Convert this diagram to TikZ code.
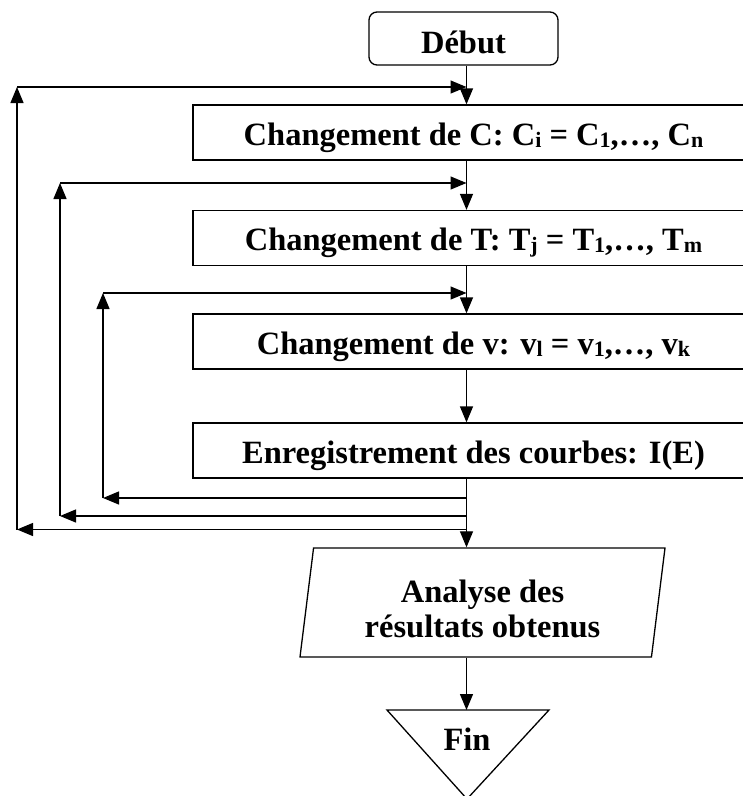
\documentclass[tikz,border=0pt]{standalone}
\usepackage{fontspec}
\setmainfont{Liberation Serif}
\usetikzlibrary{arrows.meta,shapes.geometric}
\newcommand\subx[1]{\raisebox{-2pt}{\fontsize{22}{22}\selectfont #1}}
\begin{document}
\begin{tikzpicture}[x=1pt,y=-1pt,
  lbl/.style={font=\fontsize{32.5}{35}\selectfont\bfseries},
  shapeline/.style={draw,line width=1.3pt},
  arr/.style={line width=1.3pt,-{Triangle[length=16pt,width=13pt]}},
  procbox/.style={lbl,shapeline,minimum width=561pt,minimum height=55pt,inner sep=0pt,text height=25pt,text depth=0pt},
]
\useasboundingbox (0,0) rectangle (743,796);
\clip (0,0) rectangle (743,796);
\fill[white] (0,0) rectangle (743,796);

% nodes
\node[lbl,shapeline,rounded corners=8pt,minimum width=189pt,minimum height=53pt,inner sep=0pt,text height=29pt,text depth=0pt] (debut) at (463.5,38.5) {Début};
\node[procbox] (box1) at (473.5,132.5) {Changement de C: C\subx{i} = C\subx{1},…, C\subx{n}};
\node[procbox] (box2) at (473.5,238) {Changement de T: T\subx{j} = T\subx{1},…, T\subx{m}};
\node[procbox] (box3) at (473.5,341.5) {Changement de v: v\subx{l} = v\subx{1},…, v\subx{k}};
\node[procbox] (box4) at (473.5,450.5) {Enregistrement des courbes: I(E)};
\node[lbl,shapeline,shape=trapezium,trapezium left angle=79.1,trapezium right angle=100.9,
      trapezium stretches body,minimum width=365pt,minimum height=109pt,inner sep=0pt,align=center] (analyse) at (482.5,602.5) {\rule{0pt}{35pt}Analyse des\\résultats obtenus};

% Fin triangle
\coordinate (finL) at (387,710);
\coordinate (finR) at (549,710);
\coordinate (finA) at (467,799);
\draw[line width=1.3pt] (finL) -- (finR) -- (finA) -- cycle;
\node[lbl,anchor=base] (fin) at (467,750) {Fin};

% main line x
\coordinate (mx) at (466.5,0);

% loop coordinates
\coordinate (t1L) at (17,87);   \coordinate (t1R) at (466.5,87);
\coordinate (t2L) at (60,183);  \coordinate (t2R) at (466.5,183);
\coordinate (t3L) at (103,293); \coordinate (t3R) at (466.5,293);
\coordinate (b3L) at (103,498); \coordinate (b3R) at (466.5,498);
\coordinate (b2L) at (60,516);  \coordinate (b2R) at (466.5,516);
\coordinate (b1L) at (17,529.5);\coordinate (b1R) at (466.5,529.5);

% main flow
\draw[arr] (debut.south -| mx) -- (box1.north -| mx);
\draw[arr] (box1.south -| mx) -- (box2.north -| mx);
\draw[arr] (box2.south -| mx) -- (box3.north -| mx);
\draw[arr] (box3.south -| mx) -- (box4.north -| mx);
\draw[arr] (box4.south -| mx) -- (analyse.north -| mx);
\draw[arr] (analyse.south -| mx) -- (finL -| mx);

% loops
\draw[arr] (b3R) -- (b3L);
\draw[arr] (b3L) -- (t3L);
\draw[arr] (t3L) -- (t3R);
\draw[arr] (b2R) -- (b2L);
\draw[arr] (b2L) -- (t2L);
\draw[arr] (t2L) -- (t2R);
\draw[arr] (b1R) -- (b1L);
\draw[arr] (b1L) -- (t1L);
\draw[arr] (t1L) -- (t1R);
\end{tikzpicture}
\end{document}
